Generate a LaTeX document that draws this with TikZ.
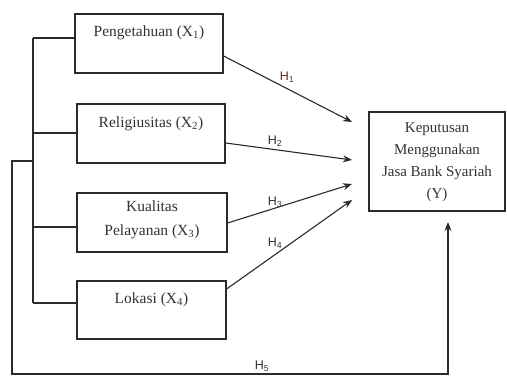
\documentclass[tikz,border=0pt]{standalone}
\usepackage{fontspec}
\setmainfont{Liberation Serif}
\newfontfamily\hsans{Liberation Sans}
\usetikzlibrary{arrows.meta}
\definecolor{lin}{HTML}{2A2A2A}
\definecolor{txt}{HTML}{333333}
\definecolor{hred}{HTML}{6A2A2A}
\tikzset{
  varbox/.style={draw=lin, line width=1.5pt, rectangle, inner sep=0pt},
  vartext/.style={text=txt, font=\fontsize{15.5}{24}\selectfont, align=center, inner sep=0pt},
  ytext/.style={text=txt, font=\fontsize{15}{22}\selectfont, align=center, inner sep=0pt},
  hlab/.style={text=txt, font=\hsans\fontsize{12.5}{13}\selectfont, inner sep=0pt},
  conn/.style={draw=lin, line width=1.1pt},
  arr/.style={conn, -{Stealth[length=9pt,width=7pt]}}
}
\begin{document}
\begin{tikzpicture}[x=1pt,y=-1pt]
\useasboundingbox (0,0) rectangle (507,379);
% boxes
\node[varbox, minimum width=148, minimum height=59] (x1) at (149,43.5) {};
\node[varbox, minimum width=148, minimum height=59] (x2) at (151,133.5) {};
\node[varbox, minimum width=150, minimum height=59] (x3) at (152,222.5) {};
\node[varbox, minimum width=149, minimum height=58] (x4) at (151.5,310) {};
\node[varbox, minimum width=136, minimum height=99] (y) at (437,161.5) {};
% texts
\node[vartext] (t1) at (149,33) {Pengetahuan (X\textsubscript{1})};
\node[vartext] (t2) at (151,124) {Religiusitas (X\textsubscript{2})};
\node[vartext] (t3) at (152,220) {Kualitas\\Pelayanan (X\textsubscript{3})};
\node[vartext] (t4) at (151.5,300) {Lokasi (X\textsubscript{4})};
\node[ytext] (ty) at (437,162) {Keputusan\\Menggunakan\\Jasa Bank Syariah\\(Y)};
% bus coordinates
\coordinate (b1) at (33,38);
\coordinate (b2) at (33,133);
\coordinate (b3) at (33,227);
\coordinate (b4) at (33,303);
\coordinate (bj) at (33,161);
\coordinate (o1) at (12,161);
\coordinate (o2) at (12,374);
\coordinate (o3) at (448,374);
\coordinate (o4) at (448,222);
\draw[conn] (b1) -- (b4);
\draw[conn] (b1) -- (b1 -| x1.west);
\draw[conn] (b2) -- (b2 -| x2.west);
\draw[conn] (b3) -- (b3 -| x3.west);
\draw[conn] (b4) -- (b4 -| x4.west);
\draw[arr] (bj) -- (o1) -- (o2) -- (o3) -- (o4);
% arrow ends
\coordinate (e1) at (352,122);
\coordinate (e2) at (352,160);
\coordinate (e3) at (352,184);
\coordinate (e4) at (352,200);
\coordinate (s1) at (223.6,56);
\coordinate (s2) at (225.6,143);
\coordinate (s3) at (227.6,223);
\coordinate (s4) at (226.6,289);
\draw[arr] (s1) -- (e1);
\draw[arr] (s2) -- (e2);
\draw[arr] (s3) -- (e3);
\draw[arr] (s4) -- (e4);
% labels
\node[hlab, text=hred] (h1) at (287,77) {H\textsubscript{1}};
\node[hlab] (h2) at (275,141) {H\textsubscript{2}};
\node[hlab] (h3) at (275,202) {H\textsubscript{3}};
\node[hlab] (h4) at (275,243) {H\textsubscript{4}};
\node[hlab] (h5) at (262,366) {H\textsubscript{5}};
\end{tikzpicture}
\end{document}
